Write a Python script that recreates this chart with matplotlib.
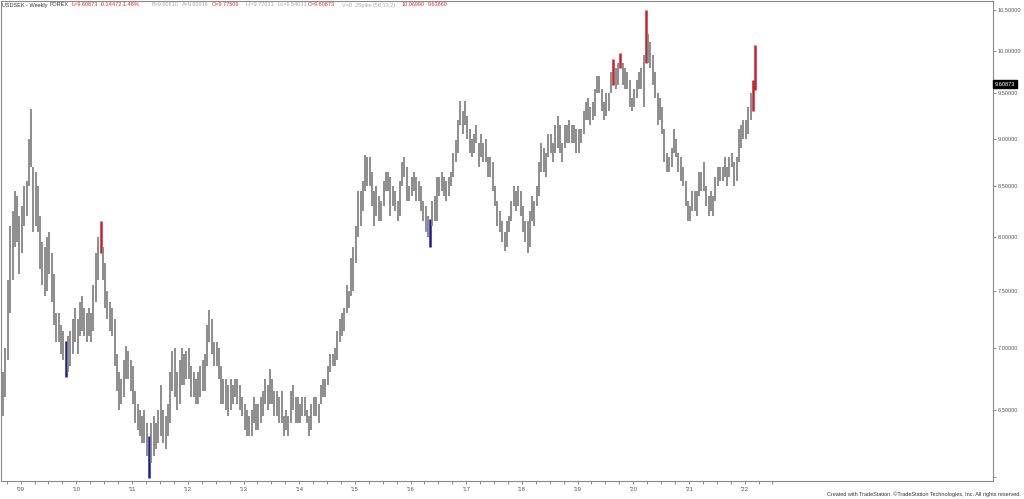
import matplotlib
matplotlib.use('Agg')
import matplotlib.pyplot as plt
import matplotlib.dates as mdates
import matplotlib.ticker as mticker
import pandas as pd

# USDSEK, half-month bars (1st and 15th), Sep 2008 .. Mar 2022
lows = [
    6.45, 6.60, 6.90, 7.30, 7.60, 7.90, 7.95, 7.65,  # 2008 (Sep-Dec)
    7.85, 8.10, 8.20, 8.50, 8.70, 8.05, 8.10, 8.05, 7.70, 7.55, 7.45, 7.50, 7.65, 7.40, 7.20, 7.05, 7.05, 6.95, 6.90, 6.76, 6.80, 6.85, 6.95, 7.05,  # 2009
    6.95, 7.10, 7.15, 7.10, 7.05, 7.10, 7.05, 7.15, 7.40, 7.60, 7.85, 7.60, 7.35, 7.25, 7.15, 7.10, 6.85, 6.65, 6.50, 6.55, 6.60, 6.75, 6.75, 6.65,  # 2010
    6.55, 6.40, 6.35, 6.30, 6.25, 6.25, 6.15, 5.99, 6.10, 6.15, 6.20, 6.25, 6.30, 6.25, 6.20, 6.30, 6.40, 6.65, 6.60, 6.50, 6.55, 6.70, 6.70, 6.75,  # 2011
    6.75, 6.60, 6.60, 6.55, 6.55, 6.60, 6.65, 6.65, 6.85, 7.05, 6.95, 6.85, 6.85, 6.75, 6.55, 6.55, 6.50, 6.45, 6.50, 6.55, 6.60, 6.55, 6.50, 6.45,  # 2012
    6.35, 6.30, 6.30, 6.30, 6.40, 6.35, 6.35, 6.40, 6.45, 6.55, 6.50, 6.55, 6.55, 6.45, 6.45, 6.40, 6.40, 6.30, 6.35, 6.30, 6.40, 6.50, 6.40, 6.40,  # 2013
    6.40, 6.45, 6.45, 6.40, 6.30, 6.35, 6.45, 6.45, 6.40, 6.55, 6.60, 6.60, 6.70, 6.80, 6.85, 6.85, 6.90, 7.05, 7.10, 7.15, 7.30, 7.35, 7.45, 7.50,  # 2014
    7.75, 8.00, 8.10, 8.25, 8.45, 8.50, 8.50, 8.30, 8.10, 8.20, 8.15, 8.15, 8.30, 8.45, 8.45, 8.20, 8.30, 8.25, 8.15, 8.20, 8.50, 8.60, 8.35, 8.35,  # 2015
    8.40, 8.45, 8.35, 8.35, 8.25, 8.15, 8.05, 8.00, 7.90, 8.10, 8.15, 8.15, 8.40, 8.45, 8.40, 8.35, 8.40, 8.50, 8.60, 8.75, 8.85, 9.15, 9.05, 9.15,  # 2016
    9.00, 8.85, 8.80, 8.85, 8.95, 8.70, 8.80, 8.75, 8.75, 8.60, 8.60, 8.45, 8.30, 8.10, 8.05, 7.95, 7.87, 7.90, 8.05, 8.15, 8.30, 8.25, 8.30, 8.20,  # 2017
    8.05, 7.95, 7.85, 7.90, 8.15, 8.10, 8.30, 8.40, 8.65, 8.65, 8.60, 8.80, 8.85, 8.75, 8.85, 8.90, 8.85, 8.75, 8.90, 8.95, 8.95, 8.95, 8.95, 8.85,  # 2018
    8.85, 8.95, 9.05, 9.20, 9.20, 9.15, 9.20, 9.25, 9.50, 9.50, 9.30, 9.20, 9.25, 9.30, 9.50, 9.60, 9.55, 9.60, 9.80, 9.60, 9.55, 9.55, 9.35, 9.30,  # 2019
    9.35, 9.45, 9.55, 9.55, 9.35, 9.85, 9.85, 9.80, 9.60, 9.45, 9.15, 9.20, 9.05, 8.75, 8.65, 8.65, 8.70, 8.85, 8.80, 8.65, 8.55, 8.50, 8.30, 8.15,  # 2020
    8.15, 8.25, 8.25, 8.20, 8.40, 8.45, 8.45, 8.30, 8.20, 8.25, 8.20, 8.35, 8.50, 8.55, 8.55, 8.60, 8.50, 8.60, 8.70, 8.50, 8.55, 8.75, 8.90, 9.00,  # 2021
    9.00, 9.05, 9.20, 9.30, 9.54,  # 2022 (Jan-Mar)
]
highs = [
    6.80, 7.00, 7.60, 8.10, 8.25, 8.45, 8.40, 8.20,  # 2008
    8.30, 8.50, 8.55, 9.00, 9.32, 8.70, 8.65, 8.50, 8.20, 7.95, 7.90, 8.00, 8.05, 7.85, 7.65, 7.30, 7.30, 7.20, 7.15, 7.06, 7.10, 7.15, 7.25, 7.35,  # 2009
    7.25, 7.40, 7.45, 7.35, 7.30, 7.35, 7.30, 7.55, 7.85, 8.00, 8.15, 7.90, 7.75, 7.50, 7.40, 7.35, 7.25, 6.95, 6.80, 6.75, 6.90, 7.02, 6.98, 6.90,  # 2010
    6.85, 6.65, 6.55, 6.50, 6.45, 6.50, 6.40, 6.30, 6.40, 6.45, 6.40, 6.50, 6.70, 6.50, 6.45, 6.55, 6.80, 6.98, 7.00, 6.80, 6.90, 7.00, 6.95, 6.98,  # 2011
    7.00, 6.85, 6.80, 6.75, 6.80, 6.85, 6.90, 6.95, 7.20, 7.33, 7.25, 7.05, 7.05, 7.00, 6.85, 6.75, 6.75, 6.70, 6.75, 6.70, 6.75, 6.75, 6.70, 6.60,  # 2012
    6.55, 6.50, 6.45, 6.50, 6.60, 6.55, 6.55, 6.60, 6.65, 6.75, 6.70, 6.83, 6.75, 6.65, 6.65, 6.60, 6.65, 6.45, 6.50, 6.45, 6.65, 6.70, 6.60, 6.60,  # 2013
    6.55, 6.60, 6.60, 6.50, 6.45, 6.55, 6.60, 6.60, 6.55, 6.70, 6.75, 6.75, 6.85, 6.95, 6.95, 7.00, 7.15, 7.25, 7.30, 7.35, 7.55, 7.50, 7.80, 7.90,  # 2014
    8.10, 8.45, 8.45, 8.55, 8.83, 8.80, 8.80, 8.65, 8.45, 8.50, 8.40, 8.35, 8.55, 8.65, 8.65, 8.60, 8.50, 8.45, 8.35, 8.55, 8.75, 8.80, 8.70, 8.50,  # 2015
    8.60, 8.65, 8.60, 8.55, 8.50, 8.35, 8.30, 8.20, 8.17, 8.35, 8.40, 8.60, 8.60, 8.65, 8.60, 8.55, 8.60, 8.65, 8.85, 8.98, 9.20, 9.42, 9.30, 9.42,  # 2016
    9.25, 9.10, 9.00, 9.05, 9.15, 8.95, 9.05, 8.95, 9.00, 8.80, 8.80, 8.75, 8.50, 8.35, 8.25, 8.15, 8.05, 8.15, 8.20, 8.35, 8.50, 8.45, 8.50, 8.45,  # 2017
    8.30, 8.15, 8.15, 8.25, 8.40, 8.35, 8.50, 8.75, 8.95, 8.90, 8.85, 9.05, 9.05, 8.95, 9.15, 9.25, 9.15, 8.95, 9.15, 9.15, 9.20, 9.15, 9.15, 9.10,  # 2018
    9.10, 9.10, 9.30, 9.40, 9.45, 9.35, 9.40, 9.55, 9.70, 9.70, 9.55, 9.40, 9.50, 9.50, 9.75, 9.90, 9.80, 9.85, 9.97, 9.85, 9.80, 9.75, 9.65, 9.45,  # 2019
    9.55, 9.65, 9.75, 9.80, 9.95, 10.50, 10.20, 10.10, 9.95, 9.75, 9.50, 9.45, 9.35, 9.10, 8.85, 8.80, 8.90, 9.10, 9.00, 8.85, 8.80, 8.70, 8.55, 8.35,  # 2020
    8.30, 8.45, 8.45, 8.45, 8.65, 8.65, 8.75, 8.50, 8.40, 8.45, 8.40, 8.60, 8.70, 8.70, 8.70, 8.80, 8.70, 8.80, 8.85, 8.75, 8.80, 9.10, 9.15, 9.20,  # 2021
    9.20, 9.35, 9.50, 9.65, 10.07,  # 2022
]

# JSpike highlighted bars
red_bars = ['2010-06-01', '2019-08-15', '2019-10-01', '2020-03-15', '2022-02-15', '2022-03-01']
blue_bars = ['2009-10-15', '2011-04-15', '2016-05-01']

price_ticks = [6.0, 6.5, 7.0, 7.5, 8.0, 8.5, 9.0, 9.5, 10.0, 10.5]
last_price = 9.60873

header = [
    ('USDSEK - Weekly', 2, '#333333'), ('FOREX', 50, '#333333'),
    ('L=9.60873', 72, '#cc3333'), ('-0.14472', 100, '#cc3333'), ('-1.48%', 122, '#cc3333'),
    ('B=9.60810', 152, '#aaaaaa'), ('A=9.60936', 182, '#aaaaaa'),
    ('O=9.77509', 212, '#cc3333'), ('Hi=9.77633', 245, '#aaaaaa'), ('Lo=9.54033', 278, '#aaaaaa'),
    ('C=9.60873', 308, '#cc3333'), ('V=0  JSpike (58,13,2)', 342, '#aaaaaa'),
    ('10.06990', 402, '#cc3333'), ('9.63860', 428, '#cc3333'),
]

plt.rcParams['font.family'] = ['Liberation Sans', 'DejaVu Sans']
GRAY = '#808080'

dates = pd.date_range('2008-09-01', periods=len(lows), freq='SMS')
xpos = mdates.date2num(dates + pd.Timedelta(days=7))
colors = []
for d in dates:
    s = d.strftime('%Y-%m-%d')
    if s in red_bars:
        colors.append('#c8202a')
    elif s in blue_bars:
        colors.append('#1c1c9a')
    else:
        colors.append(GRAY)
widths = [1.8 if c != GRAY else 1.25 for c in colors]

fig = plt.figure(figsize=(10.24, 4.99), dpi=100)
ax = fig.add_axes([0.0005, 1 - 481 / 499, 992 / 1024, 480 / 499])

ax.vlines(xpos, lows, highs, colors=colors, linewidths=widths)

ax.set_yscale('log')
ax.set_ylim(5.97, 10.614)
x0 = mdates.date2num(pd.Timestamp('2008-08-21'))
x1 = mdates.date2num(pd.Timestamp('2026-06-13'))
ax.set_xlim(x0, x1)

ax.yaxis.tick_right()
ax.yaxis.set_major_locator(mticker.FixedLocator(price_ticks))
ax.yaxis.set_major_formatter(mticker.FixedFormatter(
    [''] + ['%.5f' % p for p in price_ticks[1:]]))
ax.yaxis.set_minor_locator(mticker.NullLocator())
ax.tick_params(axis='y', which='major', length=2.5, width=0.6, color='#777777',
               labelsize=4.1, labelcolor='#555555', pad=1)

years = pd.date_range('2009-01-01', '2022-01-01', freq='YS')
ax.xaxis.set_major_locator(mticker.FixedLocator(mdates.date2num(years)))
ax.xaxis.set_major_formatter(mticker.FixedFormatter(["'%s" % d.strftime('%y') for d in years]))
quarters = pd.date_range('2008-10-01', '2022-07-01', freq='QS')
ax.xaxis.set_minor_locator(mticker.FixedLocator(mdates.date2num(quarters)))
ax.tick_params(axis='x', which='both', length=2, width=0.6, color='#777777',
               labelsize=4.3, labelcolor='#555555', pad=2)

for side in ['left', 'right', 'top', 'bottom']:
    ax.spines[side].set_color('#8a8a8a')
    ax.spines[side].set_linewidth(0.8)

for txt, px, col in header:
    fig.text(px / 1024, 1 - 5 / 499, txt, color=col, fontsize=4.0, va='center', ha='left')

# last price box
ax.annotate('%.5f' % last_price, xy=(1.0, last_price), xycoords=('axes fraction', 'data'),
            xytext=(1.5, 0), textcoords='offset points', fontsize=4.1, color='white',
            va='center', ha='left',
            bbox=dict(boxstyle='square,pad=0.35', fc='black', ec='black'))

fig.text(1021 / 1024, 1 - 494 / 499,
         'Created with TradeStation. \u00a9TradeStation Technologies, Inc. All rights reserved.',
         fontsize=4.0, color='#333333', ha='right', va='center')

fig.savefig('out.png', dpi=100, facecolor='white')
